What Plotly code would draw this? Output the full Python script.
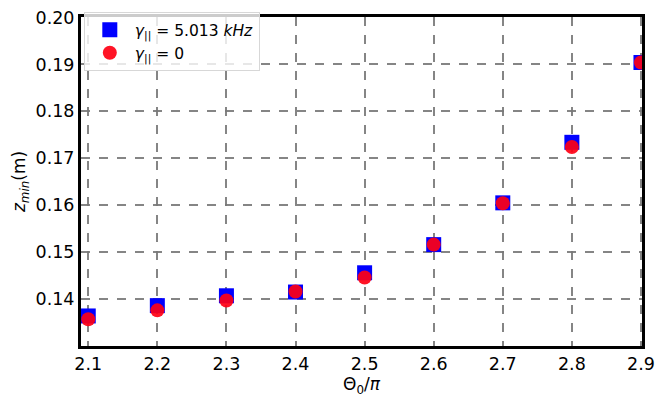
import plotly.graph_objects as go

theta = [2.1, 2.2, 2.3, 2.4, 2.5, 2.6, 2.7, 2.8, 2.9]
z_gamma = [0.1364, 0.1386, 0.1407, 0.1415, 0.1456, 0.1516, 0.1605, 0.1734, 0.1904]
z_zero = [0.1357, 0.1376, 0.1397, 0.1416, 0.1446, 0.1516, 0.1604, 0.1724, 0.1904]
x_ticks = [2.1, 2.2, 2.3, 2.4, 2.5, 2.6, 2.7, 2.8, 2.9]
y_ticks = [0.14, 0.15, 0.16, 0.17, 0.18, 0.19, 0.20]

fig = go.Figure()
fig.add_trace(go.Scatter(
    x=theta, y=z_gamma, mode="markers",
    name="<i>γ</i><sub>||</sub> = 5.013 <i>kHz</i>",
    marker=dict(symbol="square", size=15, color="#0000ff", line=dict(width=0)),
))
fig.add_trace(go.Scatter(
    x=theta, y=z_zero, mode="markers",
    name="<i>γ</i><sub>||</sub> = 0",
    marker=dict(symbol="circle", size=14, color="rgba(255,0,20,0.92)", line=dict(width=0)),
))

font = "DejaVu Sans"
axis_common = dict(
    showline=True, mirror=True, linecolor="black", linewidth=3,
    showgrid=True, gridcolor="rgba(120,120,120,0.9)", gridwidth=1.6, griddash="dash",
    zeroline=False, ticks="", tickfont=dict(family=font, size=17.5, color="black"),
)
fig.update_xaxes(range=[2.0895, 2.9015], tickvals=x_ticks, ticktext=[f"{v:.1f}" for v in x_ticks],
                 title=dict(text="Θ<sub>0</sub>/<i>π</i>", font=dict(family=font, size=17, color="black"), standoff=4),
                 **axis_common)
fig.update_yaxes(range=[0.13, 0.2001], tickvals=y_ticks, ticktext=[f"{v:.2f}" for v in y_ticks],
                 title=dict(text="<i>z</i><sub><i>min</i></sub>(m)", font=dict(family=font, size=17, color="black"), standoff=6),
                 **axis_common)
fig.update_layout(
    width=663, height=399,
    margin=dict(l=81, r=15, t=8, b=53),
    plot_bgcolor="white", paper_bgcolor="white",
    font=dict(family=font, color="black"),
    legend=dict(x=0.005, y=1.015, xanchor="left", yanchor="top",
                bgcolor="rgba(255,255,255,0.8)", bordercolor="rgba(215,215,215,1)", borderwidth=1,
                font=dict(family=font, size=15.5, color="black"), itemwidth=40),
    showlegend=True,
)
fig.write_html("out.html")
